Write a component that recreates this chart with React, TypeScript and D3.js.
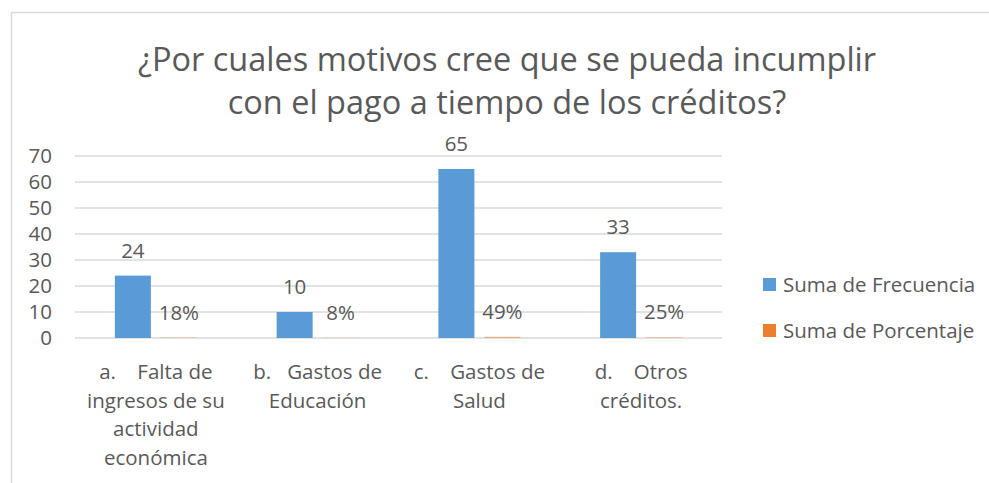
import React from "react";
import * as d3 from "d3";

const categories = [
  "a.    Falta de ingresos de su actividad económica",
  "b.   Gastos de Educación",
  "c.    Gastos de Salud",
  "d.    Otros créditos.",
];
const categoryLines = [
  ["a.    Falta de", "ingresos de su", "actividad", "económica"],
  ["b.   Gastos de", "Educación"],
  ["c.    Gastos de", "Salud"],
  ["d.    Otros", "créditos."],
];
const frecuencia = [24, 10, 65, 33];
const porcentaje = [0.18, 0.08, 0.49, 0.25];
const porcentajeLabels = ["18%", "8%", "49%", "25%"];
const seriesNames = ["Suma de Frecuencia", "Suma de Porcentaje"];
const yTicks = [0, 10, 20, 30, 40, 50, 60, 70];
const titleLines = [
  "¿Por cuales motivos cree que se pueda incumplir",
  "con el pago a tiempo de los créditos?",
];

const W = 989;
const H = 483;
const FONT = "'Open Sans', 'Noto Sans', sans-serif";
const TEXT = "#595959";
const GRID = "#d9d9d9";
const BLUE = "#5b9bd5";
const ORANGE = "#ed7d31";
const FS = 20.5;

export default function App() {
  const plotLeft = 75;
  const plotRight = 722;
  const y = d3.scaleLinear().domain([0, 70]).range([338, 156]);
  const x0 = d3
    .scaleBand<string>()
    .domain(categories)
    .range([plotLeft, plotRight])
    .paddingInner(0.493)
    .paddingOuter(0.2465);
  const x1 = d3
    .scaleBand<string>()
    .domain(seriesNames)
    .range([0, x0.bandwidth()])
    .paddingInner(0.217);

  return (
    <svg
      width={W}
      height={H}
      style={{ position: "absolute", left: 0, top: 0, display: "block" }}
      fontFamily={FONT}
    >
      <rect x={0} y={0} width={W} height={H} fill="#fff" />
      <rect x={11.5} y={12.5} width={W + 20} height={H + 20} fill="none" stroke={GRID} strokeWidth={1.5} />
      {titleLines.map((t, i) => (
        <text
          key={i}
          x={507}
          y={71 + i * 43}
          textAnchor="middle"
          fontSize={32.5}
          fill={TEXT}
        >
          {t}
        </text>
      ))}
      {yTicks.map((t) => (
        <g key={t}>
          <line x1={plotLeft} x2={plotRight} y1={y(t)} y2={y(t)} stroke={GRID} strokeWidth={1.3} />
          <text x={52} y={y(t)} dy="0.35em" textAnchor="end" fontSize={FS} fill={TEXT}>
            {t}
          </text>
        </g>
      ))}
      {categories.map((c, i) => {
        const gx = x0(c)!;
        const bx = gx + x1(seriesNames[0])!;
        const ox = gx + x1(seriesNames[1])!;
        const bw = x1.bandwidth();
        return (
          <g key={c}>
            <rect x={bx} y={y(frecuencia[i])} width={bw} height={y(0) - y(frecuencia[i])} fill={BLUE} />
            <rect x={ox} y={y(porcentaje[i])} width={bw} height={y(0) - y(porcentaje[i])} fill={ORANGE} opacity={0.5} />
            <text x={bx + bw / 2} y={y(frecuencia[i]) - 18} textAnchor="middle" fontSize={FS} fill={TEXT}>
              {frecuencia[i]}
            </text>
            <text x={ox + bw / 2} y={y(porcentaje[i]) - 18} textAnchor="middle" fontSize={FS} fill={TEXT}>
              {porcentajeLabels[i]}
            </text>
            {categoryLines[i].map((l, j) => (
              <text
                key={j}
                x={gx + x0.bandwidth() / 2}
                y={372 + j * 28.5}
                dy="0.35em"
                textAnchor="middle"
                fontSize={FS}
                fill={TEXT}
                style={{ whiteSpace: "pre" }}
              >
                {l}
              </text>
            ))}
          </g>
        );
      })}
      {seriesNames.map((s, i) => (
        <g key={s}>
          <rect x={763} y={278 + i * 46} width={13} height={13} fill={i === 0 ? BLUE : ORANGE} />
          <text x={783} y={285 + i * 46} dy="0.35em" fontSize={FS} fill={TEXT}>
            {s}
          </text>
        </g>
      ))}
    </svg>
  );
}
